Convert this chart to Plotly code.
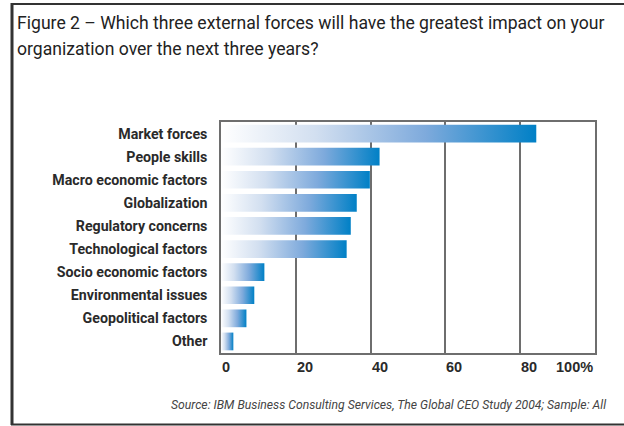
import plotly.graph_objects as go

categories = ["Market forces", "People skills", "Macro economic factors", "Globalization",
              "Regulatory concerns", "Technological factors", "Socio economic factors",
              "Environmental issues", "Geopolitical factors", "Other"]
values = [84.3, 42.4, 39.8, 36.3, 34.7, 33.6, 11.6, 8.9, 6.8, 3.3]
x_tick_values = [0, 20, 40, 60, 80, 100]
x_tick_labels = ["0", "20", "40", "60", "80", "100%"]
title_lines = ["Figure 2 \u2013 Which three external forces will have the greatest impact on your",
               "organization over the next three years?"]
source_text = "Source: IBM Business Consulting Services, The Global CEO Study 2004; Sample: All"

W, H = 624, 426
ML, MR, MT, MB = 221, 29, 122, 73
PW, PH = W - ML - MR, H - MT - MB


def px_x(px):
    return (px - ML) / PW


def px_y(py):
    return (H - MB - py) / PH


NARROW = "Roboto, Liberation Sans, sans-serif"
SANS = "Liberation Sans, Arial, sans-serif"
GRID = "#6e6e6e"
half = 0.384
scale = [[0, "#ffffff"], [0.3, "#d2dff0"], [0.65, "#7eaadc"], [1, "#0080c6"]]

fig = go.Figure()
for i, (c, v) in enumerate(zip(categories, values)):
    fig.add_trace(go.Scatter(
        x=[0, v, v, 0, 0], y=[i - half, i - half, i + half, i + half, i - half],
        mode="lines", fill="toself", line=dict(width=0),
        fillgradient=dict(type="horizontal", colorscale=scale),
        name=c, hoverinfo="skip", showlegend=False))

annotations = []
for v, t in zip(x_tick_values, x_tick_labels):
    annotations.append(dict(
        x=v, y=0, xref="x", yref="paper", text=t, showarrow=False,
        xanchor="right" if v == x_tick_values[-1] else "left", yanchor="top", yshift=-4,
        xshift=0 if v == x_tick_values[-1] else -1,
        font=dict(family=SANS, size=14.5, color="#2a2a2a", weight="bold")))

for k, line in enumerate(title_lines):
    annotations.append(dict(
        x=px_x(15), y=px_y(23 + 26 * k), xref="paper", yref="paper", text=line,
        showarrow=False, xanchor="left", yanchor="middle",
        font=dict(family=NARROW, size=17.6, color="#222222", weight="normal")))

annotations.append(dict(
    x=px_x(608), y=px_y(405), xref="paper", yref="paper", text=source_text,
    showarrow=False, xanchor="right", yanchor="middle",
    font=dict(family=NARROW, size=12.2, color="#444444", style="italic")))

FRAME = "#333333"
shapes = [
    dict(type="line", xref="paper", yref="paper", x0=px_x(11), x1=px_x(624), y0=px_y(4), y1=px_y(4),
         line=dict(color=FRAME, width=2)),
    dict(type="line", xref="paper", yref="paper", x0=px_x(12), x1=px_x(12), y0=px_y(3), y1=px_y(425),
         line=dict(color=FRAME, width=3)),
    dict(type="line", xref="paper", yref="paper", x0=px_x(11), x1=px_x(624), y0=px_y(424.5), y1=px_y(424.5),
         line=dict(color=FRAME, width=2)),
]

fig.update_layout(
    width=W, height=H,
    margin=dict(l=ML, r=MR, t=MT, b=MB, pad=0),
    paper_bgcolor="white", plot_bgcolor="white",
    showlegend=False,
    annotations=annotations, shapes=shapes,
    xaxis=dict(range=[0, 100], tick0=0, dtick=20, showgrid=True, gridcolor=GRID, gridwidth=1.5,
               showline=True, linecolor=GRID, linewidth=1.5, mirror=True,
               showticklabels=False, ticks="", zeroline=False, fixedrange=True),
    yaxis=dict(range=[len(categories) - 0.5, -0.5], tickmode="array",
               tickvals=list(range(len(categories))), ticktext=categories,
               showline=True, linecolor=GRID, linewidth=1.5, mirror=True,
               showgrid=False, zeroline=False, ticks="", ticklabelstandoff=9,
               tickfont=dict(family=NARROW, size=14.2, color="#2a2a2a", weight="bold"),
               fixedrange=True),
)

fig.write_html("out.html", config={"displayModeBar": False},
               post_script="document.body.style.margin='0';")
